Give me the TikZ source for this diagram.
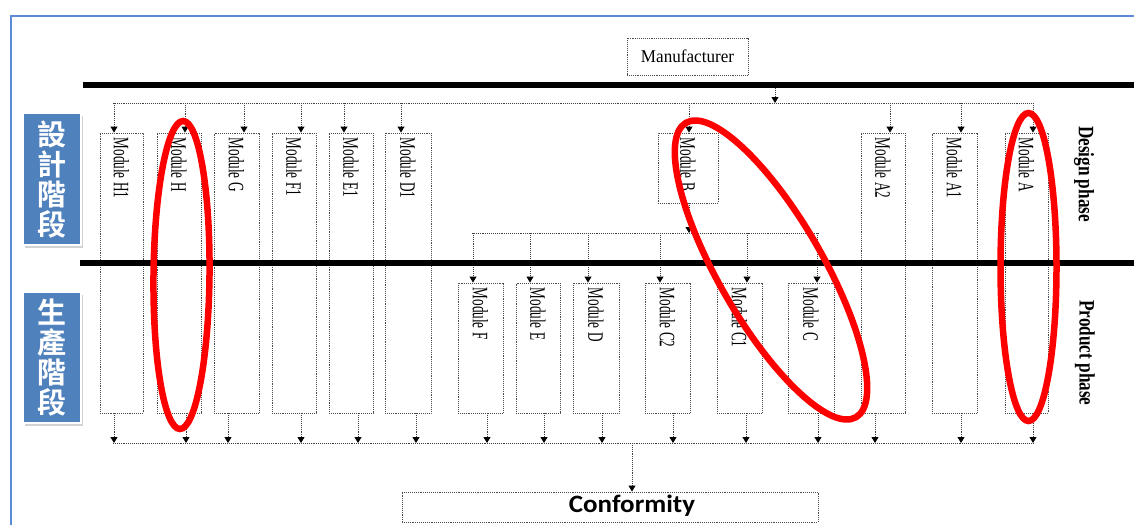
\documentclass[tikz,border=0pt]{standalone}
\usepackage{fontspec}
\setmainfont{Liberation Serif}
\newfontfamily\calfont{Carlito}
\newfontfamily\cjkfont{Noto Sans CJK TC}[BoldFont={Noto Sans CJK TC Bold}]
\usetikzlibrary{arrows.meta,shadows,calc}
\definecolor{frameblue}{HTML}{5B8BD5}
\definecolor{boxblue}{HTML}{4F81BD}
\tikzset{
  modbox/.style={draw=black!70, densely dotted, line width=0.9pt, fill=white, inner sep=0pt},
  modlabel/.style={rotate=-90, anchor=west, inner sep=0pt, font=\fontsize{22}{22}\selectfont},
  conn/.style={draw=black!75, densely dotted, line width=0.9pt},
  arr/.style={conn, -{Triangle[length=6pt,width=7pt,color=black]}},
  bar/.style={line width=6pt, black},
  redring/.style={draw=red, line width=6.5pt},
  phase/.style={rotate=-90, inner sep=0pt, font=\bfseries\fontsize{22}{22}\selectfont},
  cjkbox/.style={fill=boxblue, draw=white, line width=2.5pt, text=white, align=center, inner sep=0pt,
    font=\cjkfont\bfseries\fontsize{29}{30}\selectfont,
    drop shadow={shadow xshift=2pt, shadow yshift=-3pt, opacity=0.35}},
}
\begin{document}
\begin{tikzpicture}[x=1pt,y=-1pt]
\useasboundingbox (0,0) rectangle (1134,525);
\fill[white] (0,0) rectangle (1134,525);
% frame
\coordinate (fBL) at (11,525); \coordinate (fTL) at (11,16); \coordinate (fTR) at (1134,16);
\draw[frameblue, line width=2pt] (fBL) -- (fTL) -- (fTR);
% manufacturer
\node[modbox, minimum width=121pt, minimum height=37pt, font=\fontsize{18}{18}\selectfont] (man) at (687.5,56.5) {\scalebox{0.95}[1]{Manufacturer}};
% modules
\foreach \n/\l/\r/\t/\b/\txt in {H1/100/143/133/413/Module H1, H/157/201/133/413/Module H, G/214/259/133/413/Module G, F1/272/316/133/413/Module F1, E1/329/373/133/413/Module E1, D1/385/431/133/413/Module D1, A2/861/905/133/413/Module A2, A1/932/977/133/413/Module A1, A/1005/1048/133/413/Module A, B/658/718/133/203/Module B, F/458/503/283/413/Module F, E/516/560/283/413/Module E, D/573/619/283/413/Module D, C2/645/690/283/413/Module C2, C1/717/762/283/413/Module C1, C/788/834/283/413/Module C}{
  \pgfmathsetmacro\w{\r-\l}
  \pgfmathsetmacro\h{\b-\t}
  \pgfmathsetmacro\cx{(\l+\r)/2}
  \pgfmathsetmacro\cy{(\t+\b)/2}
  \node[modbox, minimum width=\w pt, minimum height=\h pt] (\n) at (\cx,\cy) {};
  \node[modlabel] (\n-t) at ($(\n.north)+(0,5)$) {\scalebox{0.6}[1]{\txt}};
}
% top distribution
\coordinate (dL) at (113,103); \coordinate (dR) at (1034,103);
\draw[conn] (dL) -- (dR);
\coordinate (mArr) at (775,88);
\draw[arr] (mArr) -- (mArr |- dR);
\foreach \n/\x in {H1/114,H/185,G/244,F1/301,E1/344,D1/401,B/689,A2/890,A1/961,A/1033}{
  \coordinate (t\n) at (\x,103);
  \draw[arr] (t\n) -- (t\n |- \n.north);
}
% second distribution from B
\coordinate (d2L) at (472,233); \coordinate (d2R) at (818,233);
\draw[conn] (d2L) -- (d2R);
\coordinate (bB) at (689,233);
\draw[arr] (bB |- B.south) -- (bB);
\foreach \n/\x in {F/473,E/530,D/588,C2/660,C1/747,C/817}{
  \coordinate (s\n) at (\x,233);
  \draw[arr] (s\n) -- (s\n |- \n.north);
}
% collection
\coordinate (cL) at (113,443); \coordinate (cR) at (1034,443);
\draw[conn] (cL) -- (cR);
\foreach \n/\x in {H1/114,H/186,G/228,F1/301,E1/358,D1/416,F/487,E/544,D/602,C2/673,C1/746,C/818,A2/875,A1/961,A/1033}{
  \coordinate (u\n) at (\x,443);
  \draw[arr] (u\n |- \n.south) -- (u\n);
}
% conformity
\node[modbox, minimum width=416pt, minimum height=30pt] (conf) at (610,507) {};
\node[inner sep=0pt, font=\calfont\bfseries\fontsize{25}{25}\selectfont] (conf-t) at (632,506) {\scalebox{1.08}[1]{Conformity}};
\coordinate (cA) at (632,443);
\draw[arr] (cA) -- (cA |- conf.north);
% phase bars
\coordinate (b1L) at (83,85); \coordinate (b1R) at (1134,85);
\coordinate (b2L) at (80,263); \coordinate (b2R) at (1134,263);
\draw[bar] (b1L) -- (b1R);
\draw[bar] (b2L) -- (b2R);
% phase labels
\node[phase] (dphase) at (1084,174) {\scalebox{0.78}[1]{Design phase}};
\node[phase] (pphase) at (1085,353) {\scalebox{0.78}[1]{Product phase}};
% CJK boxes
\node[cjkbox, minimum width=58pt, minimum height=132pt] (cjk1) at (52,179) {設\\計\\階\\段};
\node[cjkbox, minimum width=58pt, minimum height=131pt] (cjk2) at (52,357.5) {生\\產\\階\\段};
% red highlight ellipses
\draw[redring, rotate around={-0.6:(181.5,275)}] (181.5,275) ellipse [x radius=28pt, y radius=154pt];
\draw[redring] (1028.5,267) ellipse [x radius=28pt, y radius=154pt];
\draw[redring, rotate around={-60:(771,270)}] (771,270) ellipse [x radius=170pt, y radius=52pt];
\end{tikzpicture}
\end{document}
